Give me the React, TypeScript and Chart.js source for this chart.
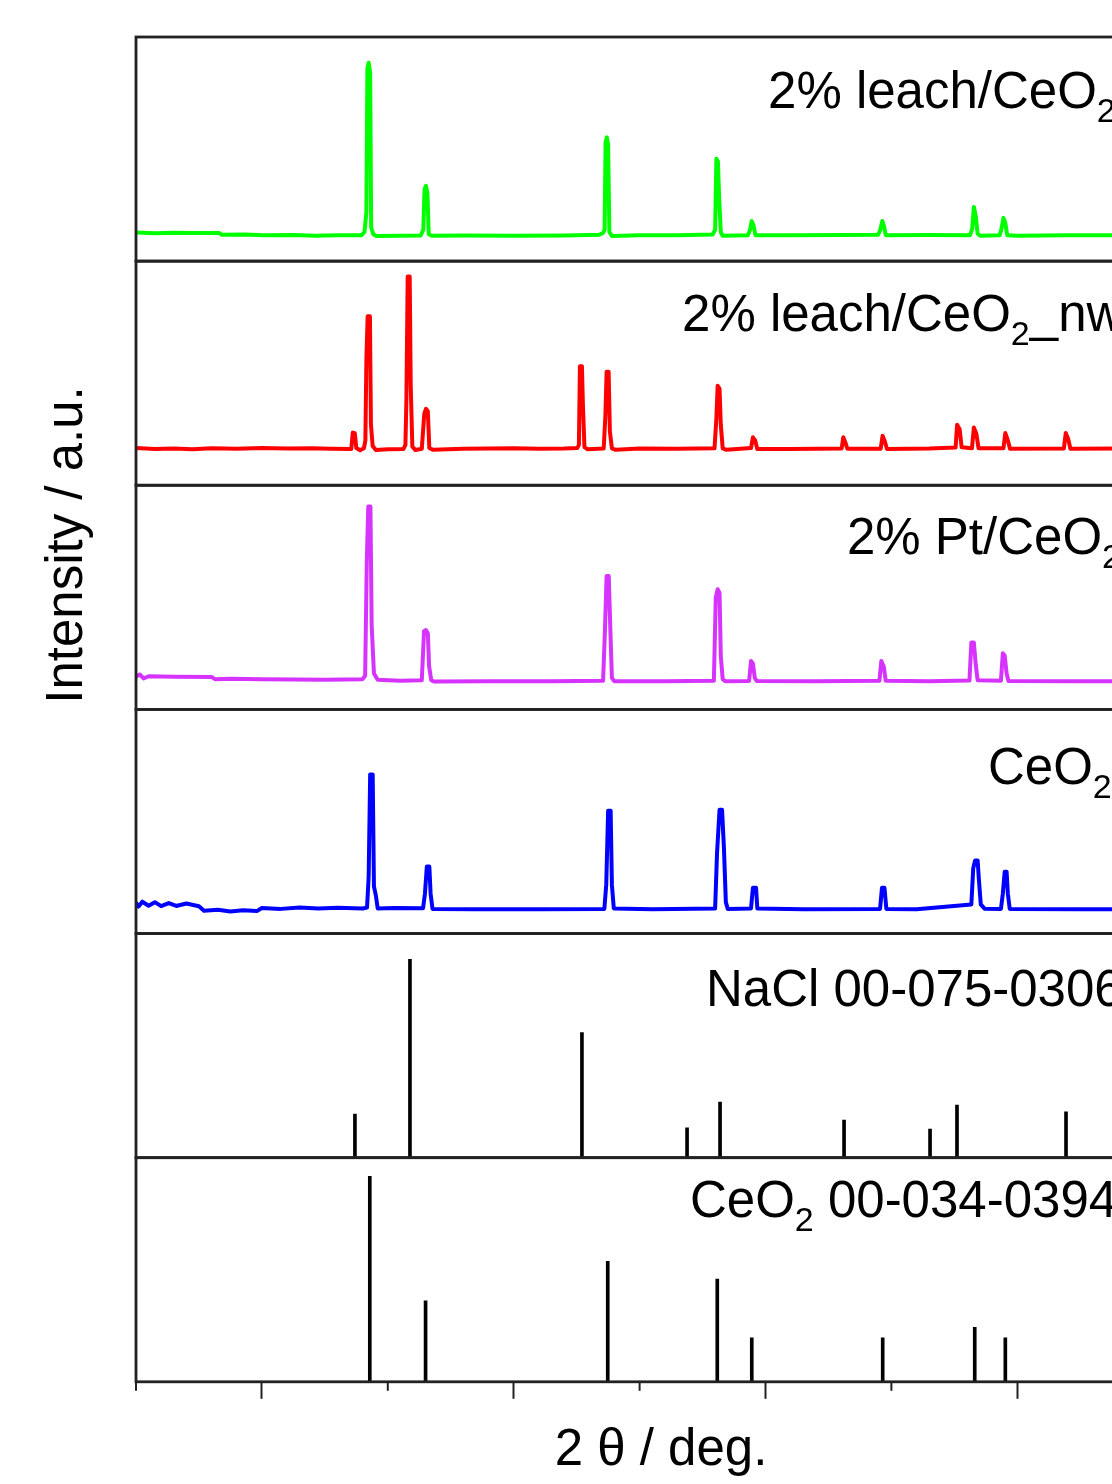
import React, { useEffect, useRef } from 'react';
import { Chart, registerables } from 'chart.js';

Chart.register(...registerables);

// ---------- axis ----------
const X_MIN = 10;
const X_MAX = 93.4;
const X_STEP = 10;
const MAJOR_TICKS = [20, 40, 60, 80];
const MINOR_TICKS = [10, 30, 50, 70];

// ---------- measured patterns: [2θ (deg), intensity (a.u., panel scale 0-100)] ----------
const leachPattern: number[][] = [
  [10, 12.8], [11.5, 12.4], [13, 12.7], [14.5, 12.5], [16.6, 12.6], [16.8, 11.8], [18.6, 11.9], [20.2, 11.5],
  [22.5, 11.7], [24.2, 11.3], [26, 11.6], [27.9, 11.5], [28.15, 13], [28.3, 22], [28.38, 86], [28.48, 88.5],
  [28.6, 84], [28.68, 15], [28.85, 12], [29.1, 11.2], [31, 11.3], [32.6, 11.4], [32.82, 14], [32.92, 32],
  [33.03, 33.6], [33.15, 30], [33.25, 12], [33.5, 11.3], [36, 11.4], [40, 11.3], [44, 11.4], [46.8, 11.8],
  [47.1, 12.6], [47.22, 14], [47.3, 53], [47.4, 55.2], [47.5, 52], [47.6, 13], [47.8, 11.2], [50, 11.5],
  [53, 11.6], [55.8, 11.9], [56.0, 14], [56.1, 45.7], [56.22, 44.5], [56.32, 28], [56.45, 13], [56.6, 11.3],
  [58.6, 11.5], [58.78, 14], [58.9, 17.9], [59.05, 16], [59.2, 11.6], [62, 11.6], [66, 11.7], [68.95, 11.8],
  [69.12, 14], [69.28, 17.9], [69.42, 15.5], [69.55, 11.6], [73, 11.7], [76.25, 11.6], [76.42, 14.5],
  [76.55, 24.2], [76.7, 20], [76.85, 12.2], [77.05, 11.3], [78.6, 11.5], [78.75, 14.5], [78.9, 19.3],
  [79.05, 17], [79.2, 11.6], [80, 11.3], [84, 11.6], [88, 11.6], [93.4, 11.6],
];

const leachNwPattern: number[][] = [
  [10, 16.6], [11.5, 16.2], [13, 16.4], [14.5, 16.1], [16, 16.5], [18, 16.3], [20, 16.6], [22, 16.4],
  [24, 16.5], [25.5, 16.3], [27.1, 16.2], [27.22, 23.5], [27.38, 23.2], [27.5, 16.6], [27.8, 15.6],
  [28.1, 16.5], [28.22, 20], [28.3, 56.6], [28.4, 75.4], [28.58, 75.4], [28.66, 27], [28.8, 17.5],
  [29.05, 15.7], [30, 16.1], [31.25, 16.2], [31.4, 18], [31.48, 38.9], [31.58, 93.1], [31.74, 93.1],
  [31.82, 44.7], [31.95, 17.2], [32.2, 15.7], [32.7, 16.3], [32.9, 32], [33.03, 34.1], [33.18, 33],
  [33.3, 16.6], [33.6, 15.8], [36, 16.3], [40, 16.5], [42, 16.3], [44, 16.4], [45.05, 16.6], [45.18, 18],
  [45.26, 53.1], [45.42, 53.1], [45.5, 35.4], [45.62, 17], [45.85, 16.1], [47.15, 16.4], [47.28, 30.7],
  [47.38, 50.6], [47.54, 50.6], [47.64, 24], [47.8, 16.5], [48.1, 15.8], [50, 16.4], [53, 16.3],
  [55.95, 16.5], [56.1, 30], [56.2, 44.4], [56.35, 43], [56.45, 27], [56.6, 16.5], [56.9, 15.8],
  [58.85, 16.6], [59.0, 21.4], [59.18, 20], [59.35, 16.2], [62, 16.2], [66.05, 16.4], [66.18, 21.4],
  [66.35, 19], [66.5, 16.3], [69.15, 16.3], [69.3, 22.1], [69.48, 19.5], [69.65, 16.2], [73, 16.4],
  [75.1, 16.8], [75.22, 27], [75.42, 25], [75.58, 17], [76.4, 16.5], [76.55, 25.8], [76.75, 23],
  [76.92, 16.5], [78.9, 16.5], [79.05, 23.3], [79.25, 20], [79.42, 16.3], [83.7, 16.4], [83.85, 23.3],
  [84.05, 20.5], [84.22, 16.3], [88, 16.4], [93.4, 16.4],
];

const ptPattern: number[][] = [
  [10, 14.6], [10.3, 15.6], [10.6, 13.8], [11, 14.8], [13, 14.6], [16, 14.5], [16.3, 13.4], [17.5, 13.7],
  [20, 13.4], [25, 13.2], [28.0, 13.5], [28.2, 15], [28.33, 65.5], [28.45, 90.5], [28.62, 90.5],
  [28.72, 37.2], [28.9, 16], [29.2, 13.2], [31, 12.8], [32.7, 13], [32.88, 35], [33.03, 35.4], [33.18, 34],
  [33.28, 19.3], [33.45, 13], [33.7, 12.4], [38, 12.6], [43, 12.6], [47.1, 12.8], [47.25, 35.7],
  [47.38, 59.5], [47.55, 59.5], [47.65, 40.5], [47.8, 14], [48, 12.6], [52, 12.6], [55.9, 12.8],
  [56.05, 50], [56.2, 53.6], [56.35, 52], [56.45, 23.8], [56.6, 13.5], [56.8, 12.6], [58.7, 12.7],
  [58.85, 21.6], [59.0, 20.5], [59.15, 14], [59.3, 12.7], [64, 12.6], [69.05, 12.8], [69.2, 21.6],
  [69.4, 19], [69.55, 12.8], [73, 12.6], [76.2, 12.9], [76.35, 29.8], [76.55, 29.8], [76.7, 20],
  [76.85, 13], [78.7, 12.8], [78.85, 25], [79.0, 24], [79.15, 16], [79.3, 12.7], [85, 12.6], [93.4, 12.6],
];

const ceo2Pattern: number[][] = [
  [10, 13.8], [10.2, 12.0], [10.5, 14.2], [11, 12.4], [11.5, 14.0], [12, 12.2], [12.6, 13.6], [13.2, 12.3],
  [14, 13.4], [15, 12.2], [15.4, 10.2], [16.5, 10.6], [17.5, 9.8], [18.5, 10.4], [19.6, 10.0], [20, 11.4],
  [21.5, 11.0], [23, 11.6], [24.5, 11.2], [26, 11.5], [28, 11.2], [28.35, 11.6], [28.48, 25.3], [28.6, 71],
  [28.8, 71], [28.9, 21], [29.05, 17], [29.2, 11.2], [30.5, 11.4], [32.8, 11.3], [32.95, 17.8],
  [33.1, 29.9], [33.3, 29.9], [33.4, 17.8], [33.55, 11.0], [37, 10.8], [42, 10.8], [47.2, 11.0],
  [47.35, 21.7], [47.5, 54.8], [47.7, 54.8], [47.8, 21.7], [47.95, 11.2], [51, 10.8], [56.0, 11.2],
  [56.15, 35.9], [56.35, 55.2], [56.55, 55.2], [56.7, 38.1], [56.85, 14], [57.0, 11.0], [58.85, 11.2],
  [59.0, 20.4], [59.25, 20.4], [59.35, 11.2], [63, 10.8], [69.1, 11.0], [69.25, 20.4], [69.45, 20.4],
  [69.6, 11.0], [72, 10.8], [76.35, 13], [76.5, 29.1], [76.65, 32.6], [76.85, 32.6], [76.95, 24.1],
  [77.1, 13], [77.4, 11.1], [78.7, 11.0], [78.85, 17.8], [79.0, 27.6], [79.15, 27.6], [79.25, 17.8],
  [79.4, 11.0], [85, 10.8], [93.4, 10.8],
];

// ---------- reference cards ----------
const naclRefTheta = [27.39, 31.76, 45.42, 53.77, 56.39, 66.24, 73.07, 75.21, 83.87];
const naclRefI = [19.5, 88.5, 55.8, 13.3, 24.8, 16.8, 12.8, 23.5, 20.4];
const ceo2RefTheta = [28.57, 33.0, 47.47, 56.17, 58.91, 69.31, 76.62, 79.05];
const ceo2RefI = [91.7, 36.1, 53.8, 45.8, 19.6, 19.6, 24.3, 19.6];

// ---------- panel labels (segments; sub = subscript) ----------
type Seg = { t: string; sub?: boolean };
const panelLabels: Seg[][] = [
  [{ t: '2% leach/CeO' }, { t: '2', sub: true }],
  [{ t: '2% leach/CeO' }, { t: '2', sub: true }, { t: '_nw' }],
  [{ t: '2% Pt/CeO' }, { t: '2', sub: true }],
  [{ t: 'CeO' }, { t: '2', sub: true }],
  [{ t: 'NaCl 00-075-0306' }],
  [{ t: 'CeO' }, { t: '2', sub: true }, { t: ' 00-034-0394' }],
];
const labelTheta = [60.2, 53.37, 66.47, 77.67, 55.27, 54.0];
const labelBaseline = [71, 70, 69, 75, 72, 59];

const X_TITLE = '2 θ / deg.';
const Y_TITLE = 'Intensity / a.u.';

const PANEL_IDS = ['yLeach', 'yLeachNw', 'yPt', 'yCeO2', 'yNaCl', 'yRef'];
const FONT = 'Liberation Sans, Arial, sans-serif';
const FRAME = '#222222';

const toXY = (arr: number[][]) => arr.map(([x, y]) => ({ x, y }));
const sticks = (th: number[], iv: number[]) => th.map((x, i) => ({ x, y: iv[i] }));

const decorPlugin = {
  id: 'decor',
  afterDraw(chart: any) {
    const { ctx, chartArea } = chart;
    const xs = chart.scales.x;
    ctx.save();
    // panel frames
    ctx.strokeStyle = FRAME;
    ctx.lineWidth = 2.8;
    PANEL_IDS.forEach((id) => {
      const s = chart.scales[id];
      ctx.strokeRect(chartArea.left, s.top, chartArea.right - chartArea.left, s.bottom - s.top);
    });
    // minor ticks
    ctx.lineWidth = 2;
    MINOR_TICKS.forEach((v) => {
      const px = xs.getPixelForValue(v);
      ctx.beginPath();
      ctx.moveTo(px, chartArea.bottom);
      ctx.lineTo(px, chartArea.bottom + 9);
      ctx.stroke();
    });
    // panel labels
    ctx.fillStyle = '#000';
    ctx.textBaseline = 'alphabetic';
    ctx.textAlign = 'left';
    PANEL_IDS.forEach((id, i) => {
      const s = chart.scales[id];
      let x = xs.getPixelForValue(labelTheta[i]);
      const y = s.top + labelBaseline[i];
      panelLabels[i].forEach((seg) => {
        ctx.font = seg.sub ? `34px ${FONT}` : `51px ${FONT}`;
        ctx.fillText(seg.t, x, seg.sub ? y + 14 : y);
        x += ctx.measureText(seg.t).width;
      });
    });
    // y title
    ctx.translate(68, 545);
    ctx.rotate(-Math.PI / 2);
    ctx.textAlign = 'center';
    ctx.textBaseline = 'middle';
    ctx.font = `51px ${FONT}`;
    ctx.fillText(Y_TITLE, 0, 0);
    ctx.restore();
  },
};

export default function App() {
  const ref = useRef<HTMLCanvasElement>(null);
  useEffect(() => {
    if (!ref.current) return;
    const lineDs = (label: string, data: number[][], color: string, axis: string) => ({
      type: 'line' as const,
      label,
      data: toXY(data),
      borderColor: color,
      backgroundColor: color,
      borderWidth: 4,
      borderJoinStyle: 'round' as const,
      pointRadius: 0,
      tension: 0,
      fill: false,
      yAxisID: axis,
    });
    const barDs = (label: string, th: number[], iv: number[], axis: string) => ({
      type: 'bar' as const,
      label,
      data: sticks(th, iv),
      backgroundColor: '#000',
      borderWidth: 0,
      barThickness: 3,
      grouped: false,
      yAxisID: axis,
    });
    const scales: any = {
      x: {
        type: 'linear',
        min: X_MIN,
        max: X_MAX,
        offset: false,
        ticks: { display: false, stepSize: X_STEP },
        grid: {
          display: true,
          drawOnChartArea: false,
          drawTicks: true,
          tickLength: 17,
          tickWidth: 2,
          offset: false,
          tickColor: (c: any) => (c.tick && MAJOR_TICKS.includes(c.tick.value) ? FRAME : 'rgba(0,0,0,0)'),
        },
        border: { display: false },
        title: {
          display: true,
          text: X_TITLE,
          color: '#000',
          font: { family: FONT, size: 51 },
          padding: { top: 22, bottom: 2 },
        },
      },
    };
    // insert bottom panel first so that the first id ends up on top of the stack
    [...PANEL_IDS].reverse().forEach((id) => {
      scales[id] = {
        type: 'linear',
        position: 'left',
        stack: 'panels',
        stackWeight: 1,
        min: 0,
        max: 100,
        ticks: { display: false },
        grid: { display: false },
        border: { display: false },
      };
    });
    const chart = new Chart(ref.current, {
      type: 'line',
      data: {
        datasets: [
          lineDs('2% leach/CeO2', leachPattern, '#00ff00', 'yLeach'),
          lineDs('2% leach/CeO2_nw', leachNwPattern, '#ff0000', 'yLeachNw'),
          lineDs('2% Pt/CeO2', ptPattern, '#d633ff', 'yPt'),
          lineDs('CeO2', ceo2Pattern, '#0000ff', 'yCeO2'),
          barDs('NaCl 00-075-0306', naclRefTheta, naclRefI, 'yNaCl'),
          barDs('CeO2 00-034-0394', ceo2RefTheta, ceo2RefI, 'yRef'),
        ] as any,
      },
      options: {
        responsive: false,
        animation: false,
        devicePixelRatio: 1,
        layout: { padding: { left: 128, top: 37, right: 14, bottom: 0 } },
        plugins: { legend: { display: false }, tooltip: { enabled: false } },
        scales,
      },
      plugins: [decorPlugin],
    });
    return () => chart.destroy();
  }, []);
  return (
    <div
      style={{
        position: 'fixed',
        left: 0,
        top: 0,
        width: 1112,
        height: 1484,
        overflow: 'hidden',
        background: '#fff',
      }}
    >
      <canvas ref={ref} width={1200} height={1484} style={{ display: 'block', width: 1200, height: 1484 }} />
    </div>
  );
}
